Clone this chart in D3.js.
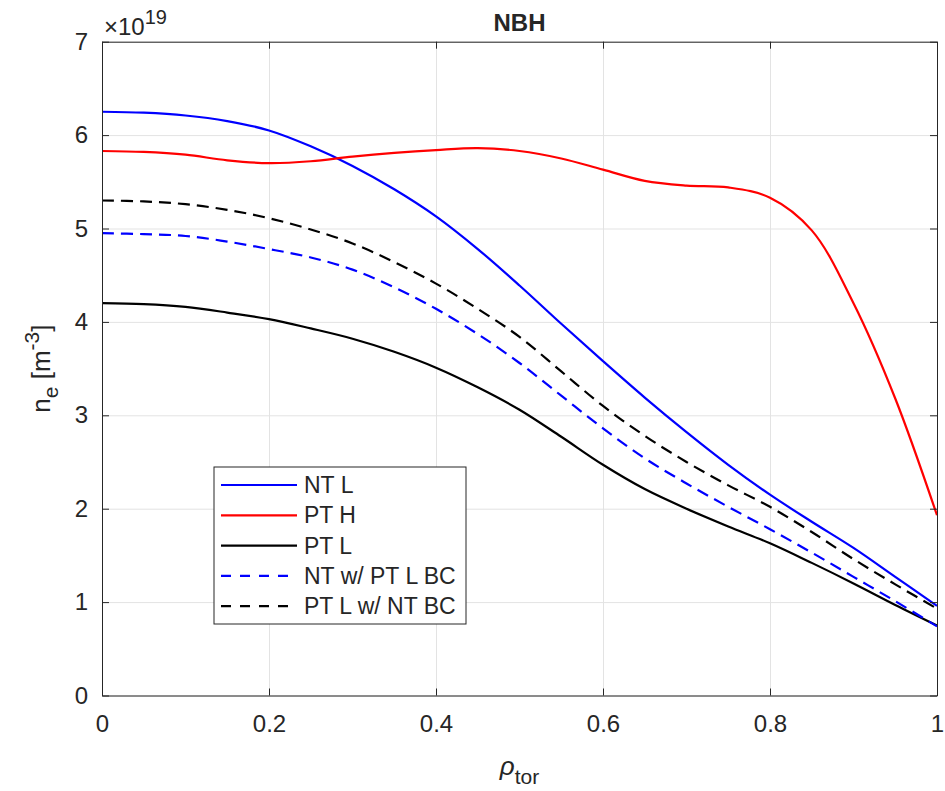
<!DOCTYPE html>
<html>
<head>
<meta charset="utf-8">
<script src="https://cdn.jsdelivr.net/npm/d3@7"></script>
<style>
  body { margin: 0; background: #fff; }
  text { font-family: "Liberation Sans", Arial, sans-serif; fill: #262626; }
</style>
</head>
<body>
<script>
// radial grid, rho_tor
var rho = [0, 0.05, 0.1, 0.15, 0.2, 0.25, 0.3, 0.35, 0.4, 0.45, 0.5,
           0.55, 0.6, 0.65, 0.7, 0.75, 0.8, 0.85, 0.9, 0.95, 1];

// n_e in units of 1e19 m^-3
var ntL      = [6.25, 6.24, 6.21, 6.15, 6.05, 5.88, 5.67, 5.42, 5.13, 4.78, 4.39,
                3.98, 3.58, 3.19, 2.82, 2.47, 2.15, 1.86, 1.58, 1.27, 0.96];
var ptH      = [5.83, 5.82, 5.79, 5.73, 5.70, 5.72, 5.77, 5.81, 5.84, 5.86, 5.83,
                5.75, 5.63, 5.51, 5.46, 5.44, 5.33, 4.98, 4.20, 3.18, 1.93];
var ptL      = [4.20, 4.19, 4.16, 4.10, 4.03, 3.93, 3.82, 3.68, 3.51, 3.30, 3.06,
                2.77, 2.47, 2.21, 2.00, 1.81, 1.63, 1.42, 1.20, 0.97, 0.75];
var ntPtLBC  = [4.95, 4.94, 4.92, 4.86, 4.78, 4.69, 4.56, 4.37, 4.14, 3.87, 3.56,
                3.21, 2.86, 2.54, 2.27, 2.02, 1.78, 1.53, 1.27, 1.01, 0.74];
var ptLNtBC  = [5.30, 5.29, 5.26, 5.20, 5.11, 4.99, 4.84, 4.64, 4.41, 4.14, 3.84,
                3.47, 3.10, 2.78, 2.50, 2.25, 2.02, 1.75, 1.46, 1.19, 0.93];

var names  = ["NT L", "PT H", "PT L", "NT w/ PT L BC", "PT L w/ NT BC"];
var colors = ["#0000ff", "#ff0000", "#000000", "#0000ff", "#000000"];
var dashed = [false, false, false, true, true];

var xTicks = [0, 0.2, 0.4, 0.6, 0.8, 1];
var yTicks = [0, 1, 2, 3, 4, 5, 6, 7];

var series = [ntL, ptH, ptL, ntPtLBC, ptLNtBC].map(function(v, i) {
  return {
    name: names[i], color: colors[i], dashed: dashed[i],
    values: rho.map(function(r, j) { return {x: r, y: v[j]}; })
  };
});

var W = 945, H = 791,
    margin = {top: 41.7, right: 8, bottom: 95.5, left: 102},
    width = W - margin.left - margin.right,
    height = H - margin.top - margin.bottom;

var svg = d3.select("body").append("svg")
    .attr("width", W).attr("height", H);
var g = svg.append("g")
    .attr("transform", "translate(" + margin.left + "," + margin.top + ")");

var x = d3.scaleLinear().domain([0, 1]).range([0, width]),
    y = d3.scaleLinear().domain([0, 7]).range([height, 0]);

// grid
g.append("g")
    .attr("transform", "translate(0," + height + ")")
    .call(d3.axisBottom(x).tickValues(xTicks).tickSize(-height).tickFormat(""))
    .call(function(s) {
      s.select(".domain").remove();
      s.selectAll("line").attr("stroke", "#e3e3e3");
    });
g.append("g")
    .call(d3.axisLeft(y).tickValues(yTicks).tickSize(-width).tickFormat(""))
    .call(function(s) {
      s.select(".domain").remove();
      s.selectAll("line").attr("stroke", "#e3e3e3");
    });

// curves
var line = d3.line()
    .curve(d3.curveCatmullRom.alpha(0.5))
    .x(function(d) { return x(d.x); })
    .y(function(d) { return y(d.y); });

g.selectAll(".series")
  .data(series)
  .enter().append("path")
    .attr("class", "series")
    .attr("fill", "none")
    .attr("stroke-width", 2.2)
    .attr("stroke", function(d) { return d.color; })
    .attr("stroke-dasharray", function(d) { return d.dashed ? "12,7" : null; })
    .attr("d", function(d) { return line(d.values); });

// axes, ticks inward, box on
function styleAxis(s) {
  s.select(".domain").attr("stroke", "#262626");
  s.selectAll(".tick line").attr("stroke", "#262626");
  s.selectAll("text").attr("font-size", 24)
    .attr("font-family", "'Liberation Sans', Arial, sans-serif").attr("fill", "#262626");
}
g.append("g")
    .attr("transform", "translate(0," + height + ")")
    .call(d3.axisBottom(x).tickValues(xTicks).tickSizeInner(-7).tickSizeOuter(0)
      .tickPadding(19).tickFormat(d3.format("~g")))
    .call(styleAxis);
g.append("g")
    .call(d3.axisTop(x).tickValues(xTicks).tickSizeInner(-7).tickSizeOuter(0).tickFormat(""))
    .call(styleAxis);
g.append("g")
    .call(d3.axisLeft(y).tickValues(yTicks).tickSizeInner(-7).tickSizeOuter(0)
      .tickPadding(14).tickFormat(d3.format("d")))
    .call(styleAxis);
g.append("g")
    .attr("transform", "translate(" + width + ",0)")
    .call(d3.axisRight(y).tickValues(yTicks).tickSizeInner(-7).tickSizeOuter(0).tickFormat(""))
    .call(styleAxis);

// exponent
var ex = g.append("text").attr("x", 2).attr("y", -7).attr("font-size", 24);
ex.append("tspan").text("\u00d710");
ex.append("tspan").attr("dy", -11).attr("font-size", 20).text("19");

// title
svg.append("text")
    .attr("x", margin.left + width / 2).attr("y", 31)
    .attr("text-anchor", "middle")
    .attr("font-size", 24).attr("font-weight", "bold")
    .attr("fill", "#000")
    .text("NBH");

// x label
var xl = svg.append("text")
    .attr("x", margin.left + width / 2).attr("y", 775)
    .attr("text-anchor", "middle").attr("font-size", 26);
xl.append("tspan").attr("font-style", "italic").text("\u03c1");
xl.append("tspan").attr("dy", 9).attr("font-size", 21).text("tor");

// y label
var yl = svg.append("text")
    .attr("transform", "translate(50," + (margin.top + height / 2) + ") rotate(-90)")
    .attr("text-anchor", "middle").attr("font-size", 26);
yl.append("tspan").text("n");
yl.append("tspan").attr("dy", 8).attr("font-size", 21).text("e");
yl.append("tspan").attr("dy", -8).text(" [m");
yl.append("tspan").attr("dy", -11).attr("font-size", 21).text("-3");
yl.append("tspan").attr("dy", 11).text("]");

// legend
var lg = svg.append("g").attr("transform", "translate(214,467)");
lg.append("rect")
    .attr("width", 252).attr("height", 157)
    .attr("fill", "#fff").attr("stroke", "#262626").attr("stroke-width", 1);
var item = lg.selectAll(".item")
  .data(series)
  .enter().append("g")
    .attr("class", "item")
    .attr("transform", function(d, i) { return "translate(0," + (18 + i * 30.3) + ")"; });
item.append("line")
    .attr("x1", 7).attr("x2", 83)
    .attr("stroke", function(d) { return d.color; })
    .attr("stroke-width", 2.2)
    .attr("stroke-dasharray", function(d) { return d.dashed ? "10,9" : null; });
item.append("text")
    .attr("x", 90).attr("dy", "0.35em")
    .attr("font-size", 23).attr("fill", "#000")
    .text(function(d) { return d.name; });
</script>
</body>
</html>
